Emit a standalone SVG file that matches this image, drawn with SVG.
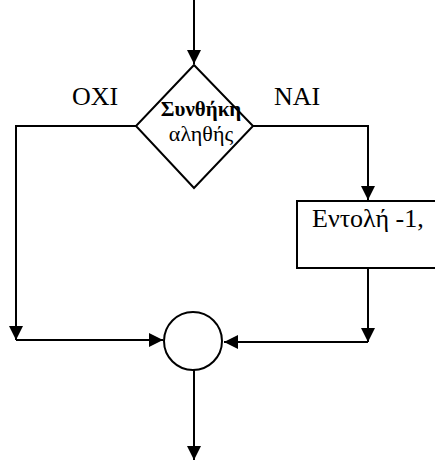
<svg xmlns="http://www.w3.org/2000/svg" width="435" height="461" viewBox="0 0 435 461">
<style>
.ln{fill:none;stroke:#000;stroke-width:2}
.sh{fill:#fff;stroke:#000;stroke-width:2}
.t{font-family:'Liberation Serif','Times New Roman',serif;fill:#000}
</style>
<defs>
<marker id="ah" viewBox="0 0 10 10" refX="10" refY="5" markerWidth="15" markerHeight="14" markerUnits="userSpaceOnUse" orient="auto">
<path d="M0,0 L10,5 L0,10 Z" fill="#000"/>
</marker>
</defs>
<g id="connectors">
<line class="ln" x1="194" y1="0" x2="194" y2="64" marker-end="url(#ah)"/>
<polyline class="ln" points="136,126 16,126 16,340" marker-end="url(#ah)"/>
<polyline class="ln" points="16,340 163,340" marker-end="url(#ah)"/>
<polyline class="ln" points="253,126 368,126 368,200" marker-end="url(#ah)"/>
<polyline class="ln" points="368,268 368,342" marker-end="url(#ah)"/>
<polyline class="ln" points="368,342 224,342" marker-end="url(#ah)"/>
<line class="ln" x1="194" y1="365" x2="194" y2="460" marker-end="url(#ah)"/>
</g>
<g id="labels">
<text class="t" x="72" y="105" font-size="26">OXI</text>
<text class="t" x="274" y="105" font-size="26">NAI</text>
</g>
<g id="decision">
<polygon class="sh" points="194,65 253,126 194,188 136,126"/>
<text class="t" x="201" y="116" font-size="21" font-weight="bold" text-anchor="middle">Συνθήκη</text>
<text class="t" x="201" y="141" font-size="22" text-anchor="middle">αληθής</text>
</g>
<g id="action">
<rect class="sh" x="297" y="201" width="150" height="67"/>
<text class="t" x="312" y="227" font-size="26">Εντολή -1,</text>
</g>
<g id="join">
<circle class="sh" cx="193" cy="341" r="29"/>
</g>
</svg>
